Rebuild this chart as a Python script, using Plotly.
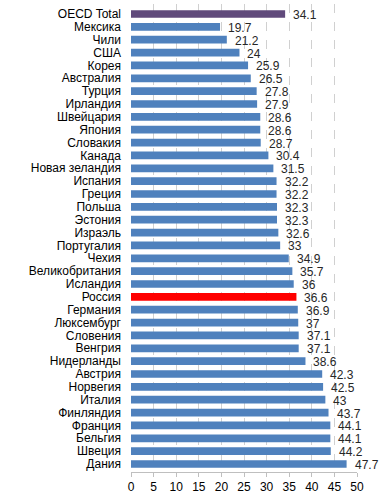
import plotly.graph_objects as go

countries = ["OECD Total", "Мексика", "Чили", "США", "Корея", "Австралия", "Турция",
             "Ирландия", "Швейцария", "Япония", "Словакия", "Канада", "Новая зеландия",
             "Испания", "Греция", "Польша", "Эстония", "Израэль", "Португалия", "Чехия",
             "Великобритания", "Исландия", "Россия", "Германия", "Люксембург", "Словения",
             "Венгрия", "Нидерланды", "Австрия", "Норвегия", "Италия", "Финляндия",
             "Франция", "Бельгия", "Швеция", "Дания"]
values = [34.1, 19.7, 21.2, 24, 25.9, 26.5, 27.8, 27.9, 28.6, 28.6, 28.7, 30.4, 31.5,
          32.2, 32.2, 32.3, 32.3, 32.6, 33, 34.9, 35.7, 36, 36.6, 36.9, 37, 37.1, 37.1,
          38.6, 42.3, 42.5, 43, 43.7, 44.1, 44.1, 44.2, 47.7]
x_ticks = [0, 5, 10, 15, 20, 25, 30, 35, 40, 45, 50]

BLUE = "#4F81BD"
colors = []
for c in countries:
    if c == "OECD Total":
        colors.append("#604A7B")
    elif c == "Россия":
        colors.append("#FF0000")
    else:
        colors.append(BLUE)

font = "Liberation Sans, Arial, sans-serif"

fig = go.Figure(go.Bar(
    x=values, y=countries, orientation="h",
    marker=dict(color=colors, line=dict(width=0)),
    width=0.6, hoverinfo="skip",
))

for c, v in zip(countries, values):
    fig.add_annotation(x=v, y=c, text=f"{v:g}", showarrow=False,
                       xanchor="left", xshift=6, yshift=-1,
                       font=dict(family=font, size=12, color="#262626"))

fig.update_layout(
    width=380, height=498,
    margin=dict(l=131, r=23, t=4, b=23),
    paper_bgcolor="white", plot_bgcolor="white",
    showlegend=False,
    font=dict(family=font, size=12, color="#000000"),
)
fig.update_xaxes(
    range=[0, 50], tickvals=x_ticks, ticktext=[str(t) for t in x_ticks],
    showgrid=True, gridcolor="#d0d0d0", griddash="dash", gridwidth=1,
    zeroline=False, showline=True, linecolor="#bfbfbf", linewidth=1,
    ticks="outside", ticklen=4, tickcolor="#bfbfbf",
    tickfont=dict(family=font, size=12, color="#000000"),
    fixedrange=True,
)
fig.update_yaxes(
    autorange="reversed", showgrid=False, zeroline=False, showline=False,
    tickmode="array", tickvals=countries, ticktext=countries,
    ticks="", ticklabelstandoff=9,
    tickfont=dict(family=font, size=12, color="#000000"),
    fixedrange=True,
)

fig.write_html("out.html", config={"displayModeBar": False, "staticPlot": True},
               post_script="document.body.style.margin='0';document.body.style.overflow='hidden';")
